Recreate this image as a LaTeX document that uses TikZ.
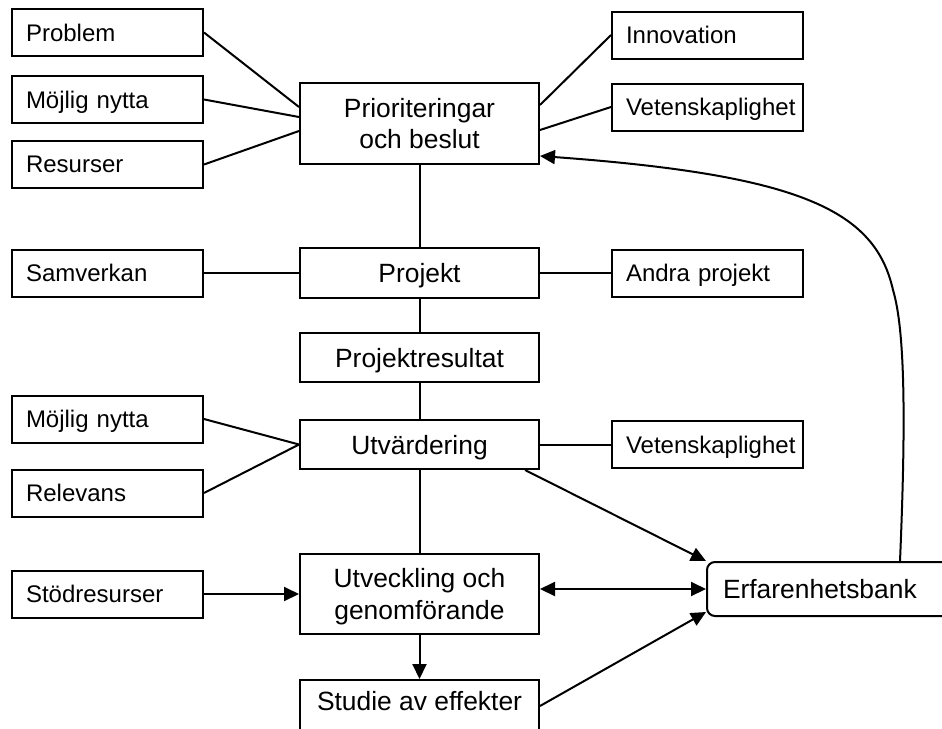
\documentclass[tikz,border=0pt]{standalone}
\usepackage{fontspec}
\setmainfont{Liberation Sans}
\usetikzlibrary{positioning,calc,arrows.meta}

\begin{document}
\begin{tikzpicture}[
    x=0.5pt, y=-0.5pt,
    >={Triangle[length=7.5pt,width=7pt]},
    mainbox/.style={rectangle, draw, line width=1pt, minimum width=119.5pt, minimum height=25pt, align=center, inner sep=2pt, text depth=0pt, font=\fontsize{13.2}{15.8}\selectfont},
    sidebox/.style={rectangle, draw, line width=1pt, text width=81.5pt, inner xsep=7pt, minimum height=23.5pt, align=left, text depth=0pt, font=\fontsize{12}{14}\selectfont},
    bankbox/.style={rectangle, draw, line width=1pt, rounded corners=4pt, text width=114pt, inner xsep=8pt, minimum height=27pt, align=left, text depth=0pt, font=\fontsize{13.2}{15.8}\selectfont},
    link/.style={line width=1pt},
    arrow/.style={line width=1pt, ->}
]

\useasboundingbox (0,0) rectangle (942,728);

% Main column
\node (prio) [mainbox, minimum height=40.5pt] at (419.5,123.5) {Prioriteringar\\och beslut};
\node (projekt) [mainbox, below=41pt of prio] {Projekt};
\node (result) [mainbox, below=16.5pt of projekt, minimum height=24.5pt] {Projektresultat};
\node (utv) [mainbox, below=18pt of result, minimum height=24.5pt] {Utvärdering};
\node (genomf) [mainbox, below=41.5pt of utv, minimum height=40pt] {Utveckling och\\genomförande};
\node (studie) [mainbox, below=22pt of genomf, minimum height=30pt, text depth=9pt] {Studie av effekter};

% Left column
\node (nytta1) [sidebox, left=47.5pt of prio, yshift=12pt] {Möjlig nytta};
\node (problem) [sidebox, above=9pt of nytta1] {Problem};
\node (resurser) [sidebox, below=8pt of nytta1] {Resurser};
\node (samverkan) [sidebox, left=47.5pt of projekt] {Samverkan};
\node (nytta2) [sidebox, left=47.5pt of utv, yshift=12.75pt] {Möjlig nytta};
\node (relevans) [sidebox, below=12.5pt of nytta2] {Relevans};
\node (stod) [sidebox, left=47.5pt of genomf] {Stödresurser};

% Right column
\node (vet1) [sidebox, right=35.5pt of prio, yshift=8.25pt] {Vetenskaplighet};
\node (innovation) [sidebox, above=11.5pt of vet1] {Innovation};
\node (andra) [sidebox, right=35.5pt of projekt] {Andra projekt};
\node (vet2) [sidebox, right=35.5pt of utv] {Vetenskaplighet};
\node (erf) [bankbox, right=83pt of genomf, yshift=2.5pt] {Erfarenhetsbank};

% Lines into the decision box
\draw [link] (problem.east) -- ([yshift=8.25pt]prio.west);
\draw [link] (nytta1.east) -- ([yshift=3.25pt]prio.west);
\draw [link] (resurser.east) -- ([yshift=-3.75pt]prio.west);
\draw [link] (innovation.west) -- ([yshift=9.25pt]prio.east);
\draw [link] (vet1.west) -- ([yshift=-3.25pt]prio.east);

% Main chain
\draw [link] (prio) -- (projekt);
\draw [link] (samverkan) -- (projekt);
\draw [link] (projekt) -- (andra);
\draw [link] (projekt) -- (result);
\draw [link] (result) -- (utv);
\draw [link] (nytta2.east) -- (utv.west);
\draw [link] (relevans.east) -- (utv.west);
\draw [link] (utv) -- (vet2);
\draw [link] (utv) -- (genomf);
\draw [arrow] (stod) -- (genomf);
\draw [arrow] (genomf) -- (studie);

% Experience bank
\draw [arrow] ([xshift=-7.5pt]utv.south east) -- (erf.north west);
\draw [link, <->] (genomf.east |- erf.west) -- (erf.west);
\draw [arrow] ([yshift=2pt]studie.east) -- ([yshift=2.5pt]erf.south west);

% Feedback to the decisions
\coordinate (knee) at (893,290);
\draw [arrow] ($(erf.north west)+(194,0)$) .. controls (906,420) and (905,330) .. (knee)
    .. controls (875,210) and (800,175) .. ([yshift=-16.25pt]prio.east);

\end{tikzpicture}
\end{document}
